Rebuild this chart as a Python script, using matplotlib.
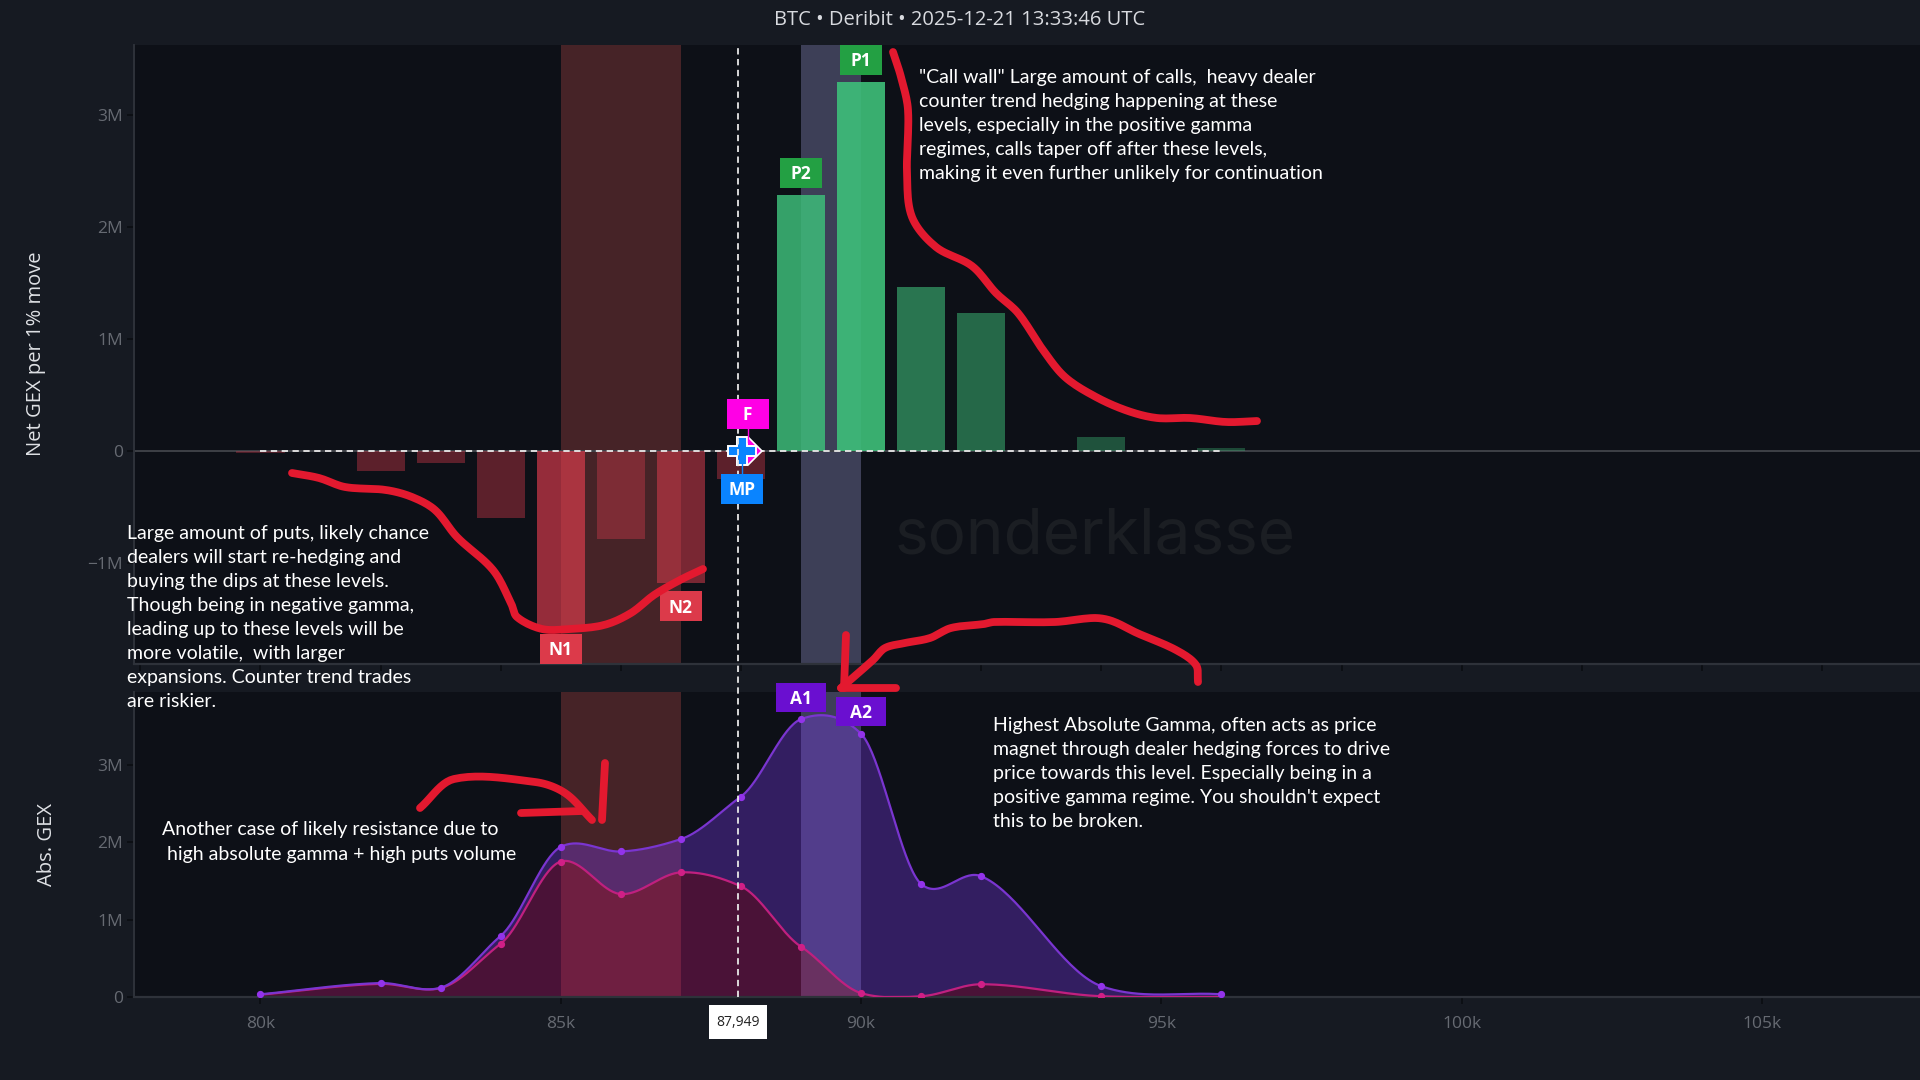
import numpy as np
import matplotlib
matplotlib.use("Agg")
import matplotlib.pyplot as plt
from matplotlib.lines import Line2D
from matplotlib.patches import Rectangle
from matplotlib.transforms import blended_transform_factory

W, H = 1920, 1080
BG = "#161a22"
PLOT_BG = "#0d1017"
AXIS = "#2e323a"
ZERO = "#3e4147"
TICK_TXT = "#666a72"
TEXT_FONT = ["Lato", "DejaVu Sans"]
UI_FONT = ["Open Sans", "DejaVu Sans"]

# net gex bars
net_strikes = [80000, 82000, 83000, 84000, 85000, 86000, 87000, 88000, 89000, 90000, 91000, 92000, 94000, 96000]
net_gex = [-0.015e6, -0.175e6, -0.104e6, -0.595e6, -1.57e6, -0.79e6, -1.18e6, -0.25e6, 2.29e6, 3.295e6, 1.46e6, 1.23e6, 0.128e6, 0.024e6]
net_alpha = [0.30, 0.37, 0.37, 0.37, 0.63, 0.35, 0.50, 0.37, 0.83, 0.90, 0.58, 0.50, 0.38, 0.33]

# abs gamma curves
abs_strikes = [80000, 82000, 83000, 84000, 85000, 86000, 87000, 88000, 89000, 90000, 91000, 92000, 94000, 96000]
abs_total = [0.035e6, 0.18e6, 0.12e6, 0.79e6, 1.94e6, 1.88e6, 2.04e6, 2.59e6, 3.59e6, 3.40e6, 1.46e6, 1.56e6, 0.14e6, 0.035e6]
abs_puts = [0.03e6, 0.17e6, 0.115e6, 0.69e6, 1.75e6, 1.33e6, 1.61e6, 1.43e6, 0.65e6, 0.05e6, 0.01e6, 0.165e6, 0.01e6, 0.0]

spot = 87949
flip_level = 88110
max_pain = 88010
neg_band = (85000, 87000)
pos_band = (89000, 90000)
top_ticks = list(range(78000, 108000, 2000))
bottom_ticks = [80000, 85000, 90000, 95000, 100000, 105000]
bottom_labels = ["80k", "85k", "90k", "95k", "100k", "105k"]
net_yticks = [-1e6, 0, 1e6, 2e6, 3e6]
net_ylabels = ["\u22121M", "0", "1M", "2M", "3M"]
abs_yticks = [0, 1e6, 2e6, 3e6]
abs_ylabels = ["0", "1M", "2M", "3M"]

title = "BTC \u2022 Deribit \u2022 2025-12-21 13:33:46 UTC"
note_call = ['"Call wall" Large amount of calls,  heavy dealer',
             "counter trend hedging happening at these",
             "levels, especially in the positive gamma",
             "regimes, calls taper off after these levels,",
             "making it even further unlikely for continuation"]
note_put = ["Large amount of puts, likely chance",
            "dealers will start re-hedging and",
            "buying the dips at these levels.",
            "Though being in negative gamma,",
            "leading up to these levels will be",
            "more volatile,  with larger",
            "expansions. Counter trend trades",
            "are riskier."]
note_res = ["Another case of likely resistance due to",
            " high absolute gamma + high puts volume"]
note_abs = ["Highest Absolute Gamma, often acts as price",
            "magnet through dealer hedging forces to drive",
            "price towards this level. Especially being in a",
            "positive gamma regime. You shouldn't expect",
            "this to be broken."]

# hand drawn red strokes, screen pixels
scribbles = [
    [(893, 52), (901, 77), (908, 110), (907, 173), (912, 217), (936, 247), (972, 266), (996, 293), (1018, 313),
     (1043, 350), (1065, 377), (1096, 397), (1128, 411), (1157, 418), (1190, 418), (1226, 422), (1257, 421)],
    [(292, 473), (319, 478), (345, 487), (386, 490), (412, 497), (435, 510), (457, 537), (493, 570), (511, 603),
     (517, 617), (542, 629), (569, 629), (604, 625), (631, 613), (654, 595), (680, 580), (703, 569)],
    [(1198, 682), (1196, 665), (1176, 650), (1137, 633), (1112, 621), (1094, 618), (1055, 622), (994, 622), (984, 624),
     (951, 628), (930, 638), (905, 643), (885, 648), (873, 660), (841, 688)],
    [(846, 635), (844, 688)],
    [(841, 688), (896, 688)],
    [(420, 808), (454, 779), (535, 782), (565, 793), (592, 820)],
    [(521, 813), (582, 811)],
    [(605, 763), (602, 820)],
]


def px_axes(left, top, right, bottom):
    return fig.add_axes([left / W, 1 - bottom / H, (right - left) / W, (bottom - top) / H])


def smooth(xs, ys, n=40, tension=0.72):
    # cubic hermite through the points, like the spline line of the chart
    xs = np.array(xs, dtype=float)
    ys = np.array(ys, dtype=float)
    m = np.zeros(len(xs))
    m[1:-1] = tension * (ys[2:] - ys[:-2]) / (xs[2:] - xs[:-2])
    m[0] = (ys[1] - ys[0]) / (xs[1] - xs[0])
    m[-1] = (ys[-1] - ys[-2]) / (xs[-1] - xs[-2])
    out_x, out_y = [], []
    for i in range(len(xs) - 1):
        h = xs[i + 1] - xs[i]
        t = np.linspace(0, 1, n)
        y = ((2 * t**3 - 3 * t**2 + 1) * ys[i] + (t**3 - 2 * t**2 + t) * h * m[i]
             + (-2 * t**3 + 3 * t**2) * ys[i + 1] + (t**3 - t**2) * h * m[i + 1])
        out_x.append(xs[i] + t * h)
        out_y.append(y)
    return np.concatenate(out_x), np.clip(np.concatenate(out_y), 0, None)


fig = plt.figure(figsize=(19.2, 10.8), dpi=100, facecolor=BG)
xlim = (77894, 107631)

ax = px_axes(134, 45, W, 664)
ax2 = px_axes(134, 692, W, 997)
for a in (ax, ax2):
    a.set_facecolor(PLOT_BG)
    a.set_xlim(xlim)
    a.set_zorder(1)
    a.spines["top"].set_visible(False)
    a.spines["right"].set_visible(False)
    a.spines["left"].set_color(AXIS)
    a.spines["left"].set_linewidth(1.4)
    a.spines["bottom"].set_color(AXIS)
    a.spines["bottom"].set_linewidth(1.6)
    a.axvspan(*neg_band, color="#462327", lw=0, zorder=0.5)
    a.axvspan(*pos_band, color="#3d3f57", lw=0, zorder=0.5)
    a.tick_params(axis="y", length=5, width=1.2, color="#0b0d12", labelcolor=TICK_TXT, labelsize=12.5, pad=3)
    a.tick_params(axis="x", length=5, width=1.2, color="#0b0d12", labelcolor=TICK_TXT, labelsize=12.5, pad=8.5)

# top panel
ax.set_ylim(-1.902e6, 3.625e6)
colors = ["#e63e50" if v < 0 else "#3ec07a" for v in net_gex]
for x, v, c, al in zip(net_strikes, net_gex, colors, net_alpha):
    ax.bar(x, v, width=800, color=c, alpha=al, lw=0, zorder=2)
ax.axhline(0, color=ZERO, lw=1.4, zorder=1)
ax.plot([net_strikes[0], net_strikes[-1]], [0, 0], color="#e8e8e8", lw=1.3, ls=(0, (3.5, 2.5)), zorder=3)
ax.set_xticks(top_ticks)
ax.set_xticklabels([])
ax.set_yticks(net_yticks)
ax.set_yticklabels(net_ylabels, family=UI_FONT)
ax.plot(flip_level, 0, marker="D", ms=14, color="#ff00e5", mec="white", mew=1.2, zorder=4)
ax.plot(max_pain, 0, marker="P", ms=20, color="#0a84ff", mec="white", mew=1.4, zorder=5)

# bottom panel
ax2.set_ylim(0, 305 / 77.4 * 1e6)
sx, s_tot = smooth(abs_strikes, abs_total)
_, s_put = smooth(abs_strikes, abs_puts)
ax2.fill_between(sx, 0, s_put, color="#be1874", alpha=0.35, lw=0, zorder=2)
ax2.fill_between(sx, s_put, np.maximum(s_tot, s_put), color="#7c3aed", alpha=0.35, lw=0, zorder=2)
ax2.plot(sx, s_put, color="#c0207f", lw=1.6, zorder=3)
ax2.plot(sx, s_tot, color="#7a35d0", lw=1.6, zorder=3)
ax2.plot(abs_strikes[3:-1], abs_puts[3:-1], ls="none", marker="o", ms=4.2, color="#d01f86", zorder=4)
ax2.plot(abs_strikes, abs_total, ls="none", marker="o", ms=4.2, color="#9333ea", zorder=4)
ax2.set_xticks(bottom_ticks)
ax2.set_xticklabels(bottom_labels, family=UI_FONT)
ax2.set_yticks(abs_yticks)
ax2.set_yticklabels(abs_ylabels, family=UI_FONT)

# crosshair runs over both panels and the gap
trans = blended_transform_factory(ax.transData, fig.transFigure)
fig.add_artist(Line2D([spot, spot], [1 - 997 / H, 1 - 45 / H], transform=trans, color="#e8e8e8", lw=1.3,
                      ls=(0, (3.5, 2.5)), zorder=5))

# overlay in screen pixels
ov = fig.add_axes([0, 0, 1, 1], zorder=10)
ov.set_xlim(0, W)
ov.set_ylim(H, 0)
ov.axis("off")


def tag(a, x, y, dy, text, color, w=42, h=30):
    px, py = a.transData.transform((x, y))
    cy = H - py + dy
    ov.add_patch(Rectangle((px - w / 2, cy - h / 2), w, h, color=color, lw=0, zorder=3))
    ov.text(px, cy + 1.5, text, color="white", ha="center", va="center", fontsize=12.5, fontweight="bold",
            family=UI_FONT, zorder=4)
    return px, cy


tag(ax, 90000, net_gex[9], -22, "P1", "#23a043")
tag(ax, 89000, net_gex[8], -22, "P2", "#23a043")
tag(ax, 85000, net_gex[4], 22, "N1", "#dc3a4a")
tag(ax, 87000, net_gex[6], 23, "N2", "#dc3a4a")
fx, fy = tag(ax, flip_level, 0, -37, "F", "#ff00e5")
mx, my = tag(ax, max_pain, 0, 38, "MP", "#0a84ff")
tag(ax2, 89000, abs_total[8], -21.5, "A1", "#6a0fd0", w=50, h=29)
tag(ax2, 90000, abs_total[9], -22, "A2", "#6a0fd0", w=50, h=29)
ov.plot([fx, fx], [fy + 15, 442], color="#ff00e5", lw=1, zorder=2)
ov.plot([mx, mx], [463, my - 15], color="#0a84ff", lw=1, zorder=2)

for stroke in scribbles:
    xs, ys = zip(*stroke)
    if len(stroke) > 2:
        # chord length parameter so the pen strokes come out round
        chord = np.concatenate([[0], np.cumsum(np.hypot(np.diff(xs), np.diff(ys)))])
        _, xs = smooth(chord, xs, n=12, tension=1.0)
        _, ys = smooth(chord, ys, n=12, tension=1.0)
    ov.plot(xs, ys, color="#e3192f", lw=5.6, solid_capstyle="round", solid_joinstyle="round", zorder=5)

# tooltip of the crosshair
sx_px = ax.transData.transform((spot, 0))[0]
ov.add_patch(Rectangle((sx_px - 29, 1005), 58, 34, color="white", lw=0, zorder=3))
ov.text(sx_px, 1023, f"{spot:,}", color="#222222", ha="center", va="center", fontsize=10, family=UI_FONT, zorder=4)

ov.text(960, 20, title, color="#d8dadf", ha="center", va="center", fontsize=14.5, family=UI_FONT)
ov.text(36, 354, "Net GEX per 1% move", color="#dfe1e5", rotation=90, ha="center", va="center", fontsize=14.5,
        family=UI_FONT)
ov.text(47, 844, "Abs. GEX", color="#dfe1e5", rotation=90, ha="center", va="center", fontsize=14.5, family=UI_FONT)
ov.text(1095, 553, "sonderklasse", color="#1b1e23", ha="center", va="baseline", fontsize=46,
        family=["Inter", "DejaVu Sans"], zorder=1)

for lines, x, y0, step in [(note_call, 919, 78, 24), (note_put, 127, 533, 24.1),
                           (note_res, 162, 830, 24.5), (note_abs, 993, 725, 24.2)]:
    for i, line in enumerate(lines):
        ov.text(x, y0 + i * step, line, color="white", ha="left", va="center", fontsize=14, family=TEXT_FONT, zorder=2)

fig.savefig("out.png", dpi=100, facecolor=BG)
